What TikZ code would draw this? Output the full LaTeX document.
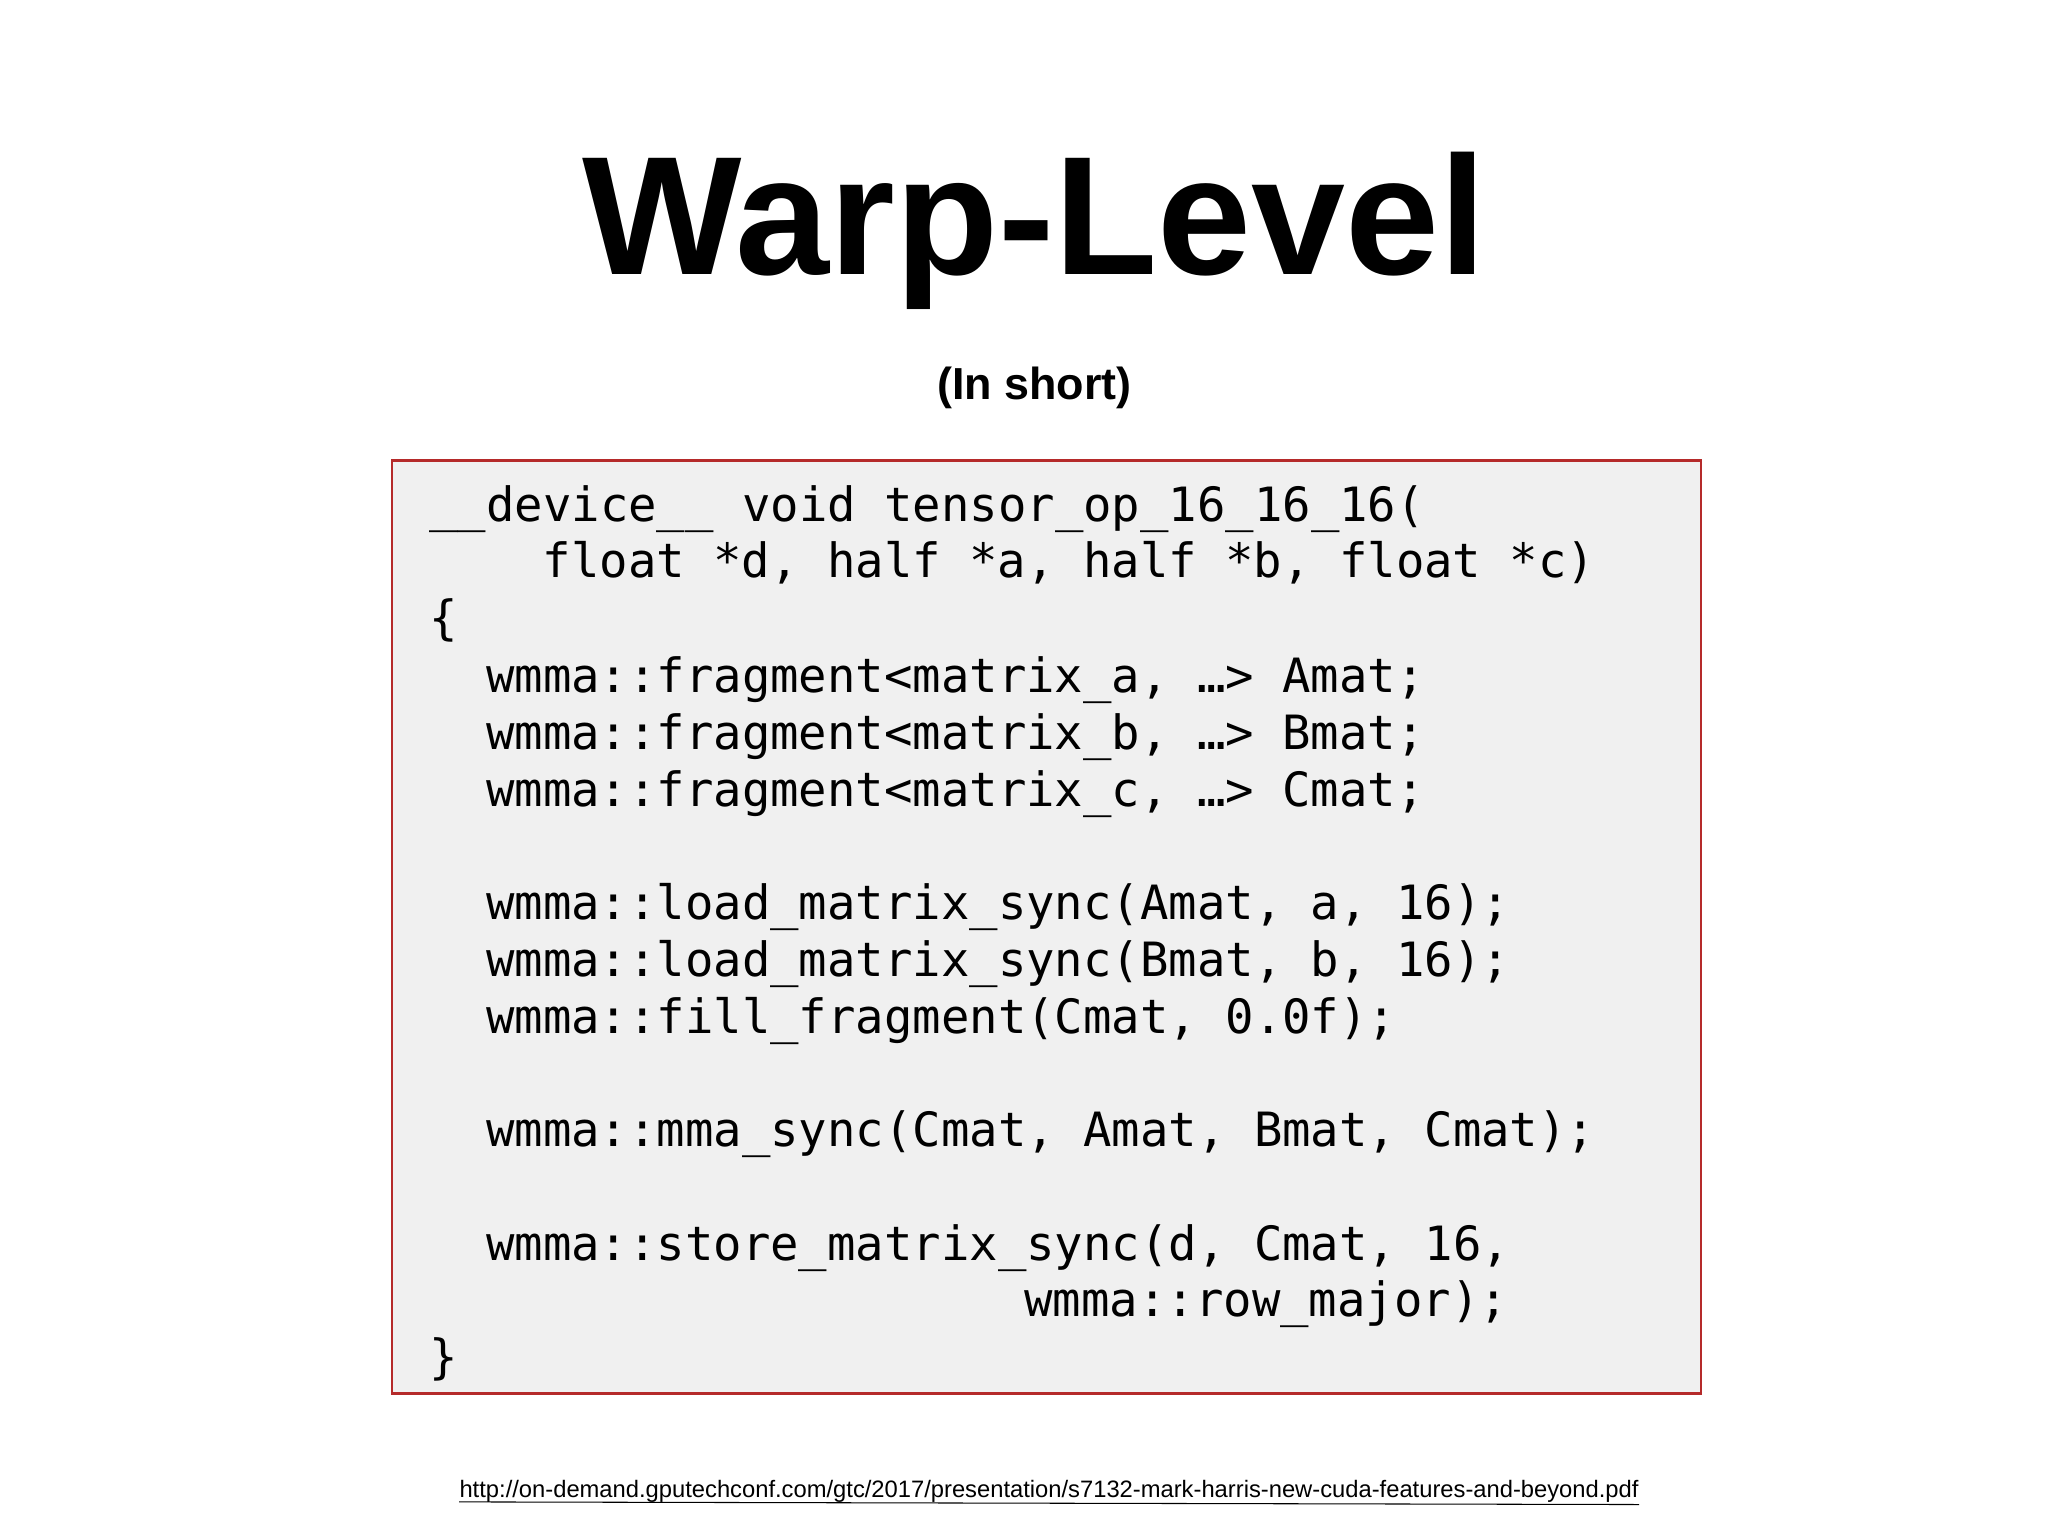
\documentclass[tikz,border=0pt]{standalone}
\usepackage{fontspec}
\setmainfont{Liberation Sans}
\newfontfamily\codef{DejaVu Sans Mono}
\definecolor{boxred}{HTML}{B52A2A}
\definecolor{boxfill}{HTML}{F0F0F0}
\begin{document}
\begin{tikzpicture}[x=0.5pt,y=-0.5pt,
  codeline/.style={anchor=base west,inner sep=0,font=\codef\fontsize{17.9}{20}\selectfont}]
\useasboundingbox (0,0) rectangle (1552,1164);
\node[font=\bfseries\fontsize{64}{70}\selectfont,anchor=base] (title) at (784,208) {Warp-Level};
\node[font=\bfseries\fontsize{17}{20}\selectfont,anchor=base] (sub) at (784,303) {(In short)};
\draw[boxred,fill=boxfill,line width=0.8pt] (297,349) rectangle (1289,1056);
\node[codeline] (l1) at (325,395) {\_\_device\_\_ void tensor\_op\_16\_16\_16(};
\node[codeline] (l2) at (411,438) {float *d, half *a, half *b, float *c)};
\node[codeline] (l3) at (325,481) {\{};
\node[codeline] (l4) at (368,525) {wmma::fragment<matrix\_a, …> Amat;};
\node[codeline] (l5) at (368,568) {wmma::fragment<matrix\_b, …> Bmat;};
\node[codeline] (l6) at (368,611) {wmma::fragment<matrix\_c, …> Cmat;};
\node[codeline] (l8) at (368,697) {wmma::load\_matrix\_sync(Amat, a, 16);};
\node[codeline] (l9) at (368,740) {wmma::load\_matrix\_sync(Bmat, b, 16);};
\node[codeline] (l10) at (368,783) {wmma::fill\_fragment(Cmat, 0.0f);};
\node[codeline] (l12) at (368,869) {wmma::mma\_sync(Cmat, Amat, Bmat, Cmat);};
\node[codeline] (l14) at (368,955) {wmma::store\_matrix\_sync(d, Cmat, 16,};
\node[codeline] (l15) at (776,998) {wmma::row\_major);};
\node[codeline] (l16) at (325,1041) {\}};
\node[font=\fontsize{9}{11}\selectfont,anchor=base,inner sep=0] (url) at (795,1135)
  {http://on-demand.gputechconf.com/gtc/2017/presentation/s7132-mark-harris-new-cuda-features-and-beyond.pdf};
\draw[line width=0.4pt] (url.south west) ++(0,-1) -- ([yshift=-0.5pt]url.south east);
\end{tikzpicture}
\end{document}
